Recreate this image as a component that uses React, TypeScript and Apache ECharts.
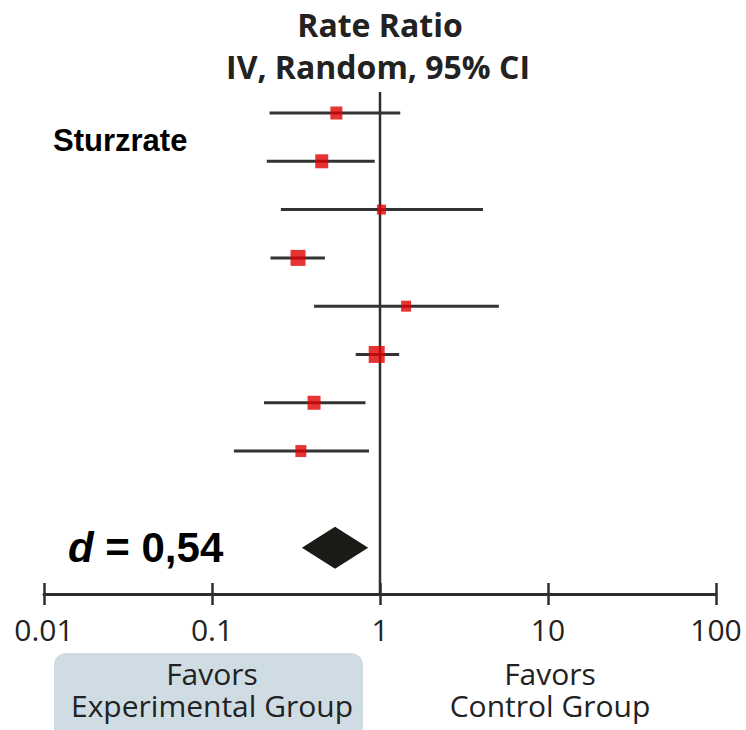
import React, { useEffect, useRef } from "react";
import * as echarts from "echarts";

// Study rows (top to bottom)
const studyRows = [1, 2, 3, 4, 5, 6, 7, 8];
const estimates = [0.55, 0.45, 1.02, 0.325, 1.43, 0.956, 0.405, 0.338];
const ciLow = [0.22, 0.212, 0.257, 0.223, 0.405, 0.717, 0.204, 0.135];
const ciHigh = [1.32, 0.93, 4.1, 0.47, 5.1, 1.3, 0.82, 0.86];
const weights = [12, 13, 9, 15, 10, 16, 13, 11];

// Pooled effect
const pooledRow = 10;
const pooledEst = 0.54;
const pooledLow = 0.343;
const pooledHigh = 0.85;

const tickLabels = ["0.01", "0.1", "1", "10", "100"];

export default function App() {
  const ref = useRef<HTMLDivElement>(null);

  useEffect(() => {
    if (!ref.current) return;
    const chart = echarts.init(ref.current, undefined, { renderer: "svg" });
    const yMin = 0.565;
    const yMax = 10.96;
    const lineColor = "#2e2e2e";
    const textFont = "'Open Sans', sans-serif";

    const xAxisBase = {
      type: "log" as const,
      logBase: 10,
      min: 0.01,
      max: 100,
      position: "bottom" as const,
      splitLine: { show: false },
      minorTick: { show: false },
    };

    const favorText = (x: number, y: number, text: string) => ({
      type: "text",
      x,
      y,
      style: {
        text,
        font: "30px 'Open Sans', sans-serif",
        lineHeight: 31,
        fill: "#222222",
        align: "center",
        verticalAlign: "middle",
      },
    });

    chart.setOption({
      animation: false,
      backgroundColor: "#ffffff",
      grid: { left: 44, right: 30, top: 92, bottom: 136, containLabel: false },
      xAxis: [
        {
          ...xAxisBase,
          axisLine: { show: true, lineStyle: { color: lineColor, width: 3 } },
          axisTick: { show: true, length: 11, lineStyle: { color: lineColor, width: 2.5 } },
          axisLabel: {
            show: true,
            margin: 20,
            fontSize: 30,
            fontFamily: textFont,
            color: "#222222",
            formatter: (v: number) => tickLabels[Math.round(Math.log10(v)) + 2] ?? "",
          },
        },
        {
          ...xAxisBase,
          axisLine: { show: false },
          axisTick: { show: true, inside: true, length: 11, lineStyle: { color: lineColor, width: 2.5 } },
          axisLabel: { show: false },
        },
      ],
      yAxis: {
        type: "value",
        inverse: true,
        min: yMin,
        max: yMax,
        show: false,
      },
      series: [
        {
          type: "line",
          xAxisIndex: 0,
          data: [
            [1, yMin],
            [1, yMax],
          ],
          symbol: "none",
          lineStyle: { color: lineColor, width: 2.5 },
          silent: true,
          z: 1,
        },
        {
          type: "custom",
          xAxisIndex: 0,
          data: studyRows.map((r, i) => [ciLow[i], ciHigh[i], r]),
          encode: { x: [0, 1], y: 2 },
          renderItem: (params: any, api: any) => {
            const a = api.coord([api.value(0), api.value(2)]);
            const b = api.coord([api.value(1), api.value(2)]);
            return {
              type: "line",
              shape: { x1: a[0], y1: a[1], x2: b[0], y2: b[1] },
              style: { stroke: "#333333", lineWidth: 3 },
            };
          },
          z: 2,
        },
        {
          type: "scatter",
          xAxisIndex: 0,
          data: studyRows.map((r, i) => [estimates[i], r, weights[i]]),
          symbol: "rect",
          symbolSize: (v: number[]) => [v[2], v[2] + 1],
          itemStyle: { color: "#e00000" },
          z: 3,
        },
        {
          type: "custom",
          xAxisIndex: 0,
          data: [[pooledLow, pooledHigh, pooledRow, pooledEst]],
          encode: { x: [0, 1], y: 2 },
          renderItem: (params: any, api: any) => {
            const l = api.coord([api.value(0), api.value(2)]);
            const r = api.coord([api.value(1), api.value(2)]);
            const c = api.coord([api.value(3), api.value(2)]);
            const h = 21;
            return {
              type: "polygon",
              shape: {
                points: [
                  [l[0], l[1]],
                  [c[0], c[1] - h],
                  [r[0], r[1]],
                  [c[0], c[1] + h],
                ],
              },
              style: { fill: "#1a1a17" },
            };
          },
          z: 3,
        },
      ],
      graphic: [
        {
          type: "text",
          x: 380,
          y: 24,
          style: {
            text: "Rate Ratio",
            font: "bold 32px 'Open Sans', sans-serif",
            fill: "#222222",
            align: "center",
            verticalAlign: "middle",
          },
        },
        {
          type: "text",
          x: 378,
          y: 66,
          style: {
            text: "IV, Random, 95% CI",
            font: "bold 32px 'Open Sans', sans-serif",
            fill: "#222222",
            align: "center",
            verticalAlign: "middle",
          },
        },
        {
          type: "text",
          x: 53,
          y: 140,
          style: {
            text: "Sturzrate",
            font: "bold 31px 'Liberation Sans', Arial, sans-serif",
            fill: "#000000",
            align: "left",
            verticalAlign: "middle",
          },
        },
        {
          type: "text",
          x: 68,
          y: 547,
          style: {
            text: "{i|d} = 0,54",
            font: "bold 42px 'Liberation Sans', Arial, sans-serif",
            fill: "#000000",
            align: "left",
            verticalAlign: "middle",
            rich: {
              i: {
                fontStyle: "italic",
                fontWeight: "bold",
                fontSize: 42,
                fontFamily: "'Liberation Sans', Arial, sans-serif",
                fill: "#000000",
              },
            },
          },
        },
        {
          type: "rect",
          shape: { x: 54, y: 653, width: 309, height: 100, r: 12 },
          style: { fill: "#cfdce4" },
          z: -1,
        },
        favorText(212, 673, "Favors"),
        favorText(212, 705, "Experimental Group"),
        favorText(550, 673, "Favors"),
        favorText(550, 705, "Control Group"),
      ],
    });
    return () => chart.dispose();
  }, []);

  return (
    <div
      ref={ref}
      style={{ position: "fixed", left: 0, top: 0, width: 746, height: 730, background: "#fff" }}
    />
  );
}
